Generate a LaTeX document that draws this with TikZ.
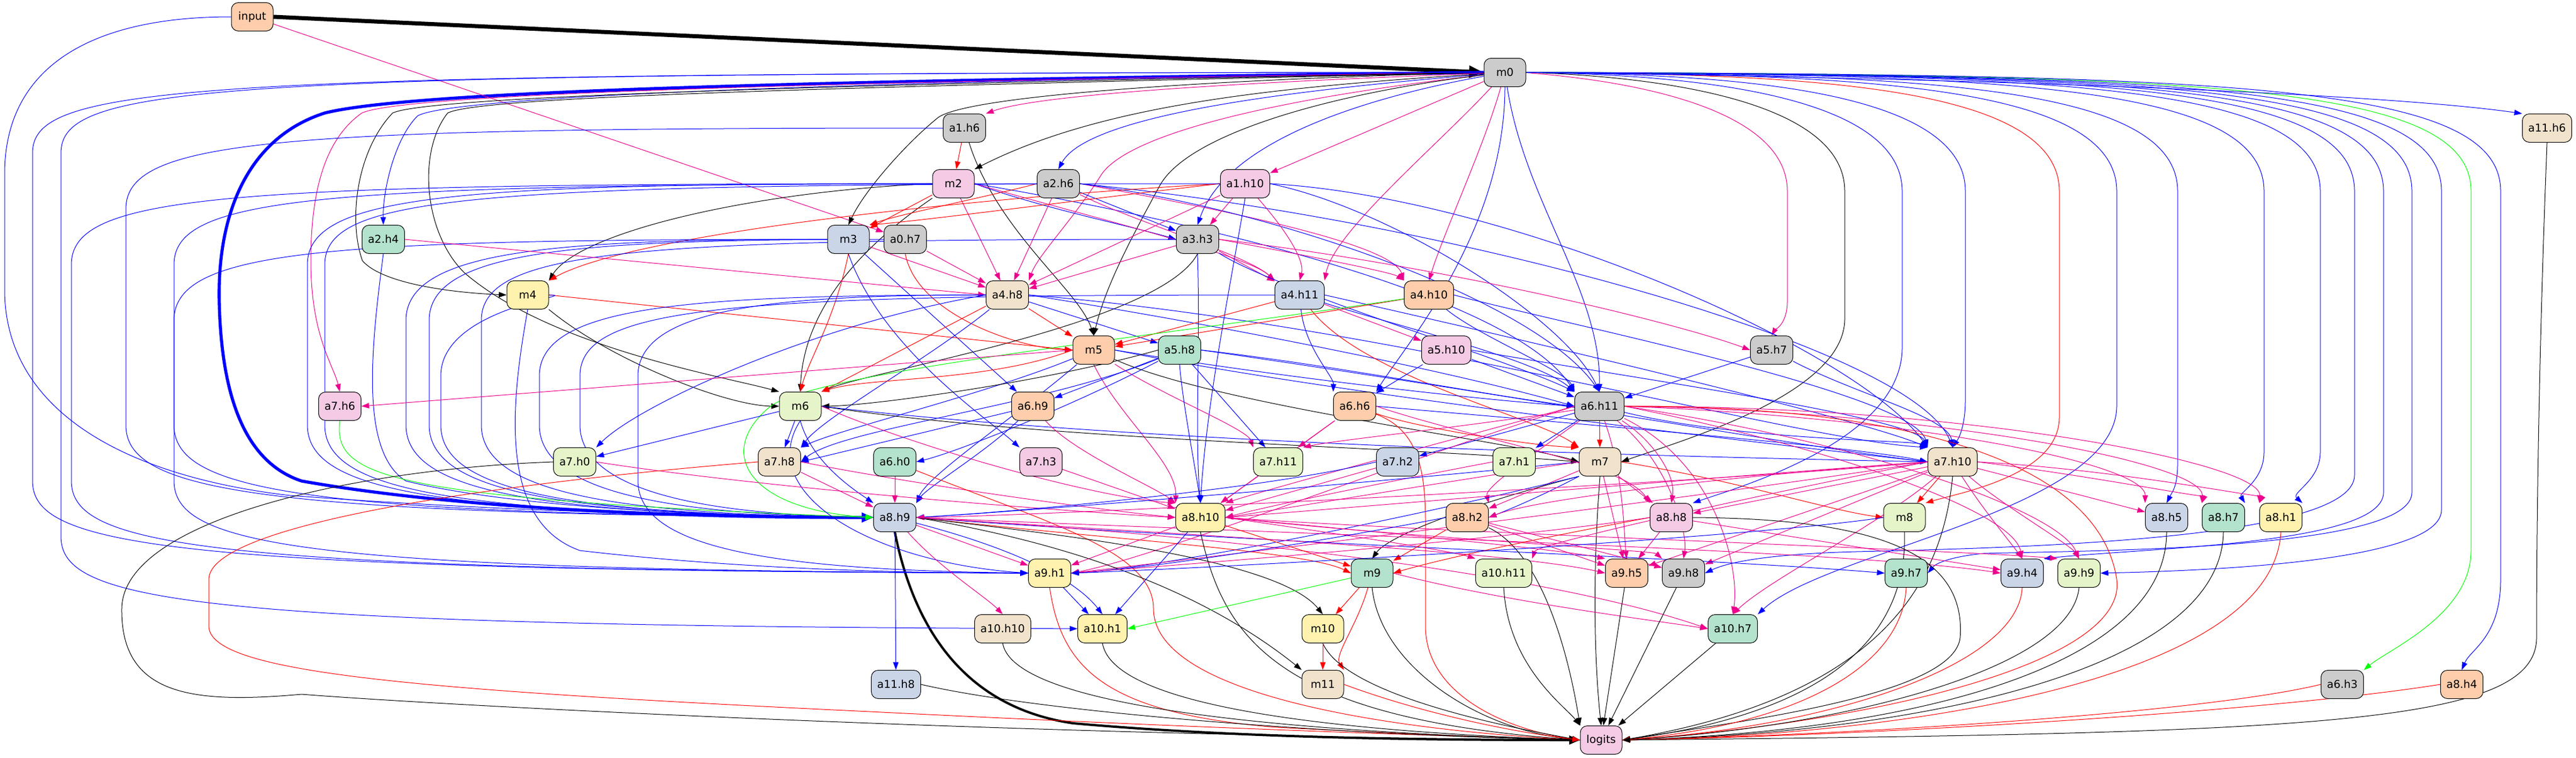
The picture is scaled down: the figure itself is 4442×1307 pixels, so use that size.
\documentclass[tikz,border=0pt]{standalone}
\usepackage{fontspec}
\setmainfont{DejaVu Sans}
\usetikzlibrary{arrows.meta}
\pgfdeclarelayer{bg}
\pgfsetlayers{bg,main}
\definecolor{pgreen}{HTML}{B3E2CD}
\definecolor{porange}{HTML}{FDCDAC}
\definecolor{pblue}{HTML}{CBD5E8}
\definecolor{ppink}{HTML}{F4CAE4}
\definecolor{plgreen}{HTML}{E6F5C9}
\definecolor{pyellow}{HTML}{FFF2AE}
\definecolor{pbeige}{HTML}{F1E2CC}
\definecolor{pgray}{HTML}{CCCCCC}
\tikzset{
 nd/.style={draw=black, line width=0.75pt, rounded corners=9pt, minimum width=54pt, minimum height=36.75pt, inner xsep=7.6pt, inner ysep=2pt, font=\fontsize{14}{17}\selectfont},
 E/.style={line width=0.75pt,-{Triangle[length=10pt,width=7pt]}},
 eb/.style={E,blue}, ek/.style={E,black}, em/.style={E,magenta}, er/.style={E,red}, eg/.style={E,green}
}
\newcommand\leftroute[6]{\draw[#1] (#2) .. controls (#4+250,#3) and (#4,#3+20) .. (#4,#3+140) -- (#4,#6-160) .. controls (#4,#6-50) and (#4+200,#6-5) .. (#5);}
\newcommand\rightroute[3]{\draw[#1] (m0.east) .. controls (#2-450,128) and (#2,145) .. (#2,330) -- #3;}
\begin{document}
\begin{tikzpicture}[x=0.75pt,y=-0.75pt]
\useasboundingbox (0,0) rectangle (4442,1307);
\node[nd,fill=porange] (input) at (435,29) {input};
\node[nd,fill=pgray] (m0) at (2595,125) {m0};
\node[nd,fill=pbeige] (a11h6) at (4392,221) {a11.h6};
\node[nd,fill=pgray] (a1h6) at (1663,221) {a1.h6};
\node[nd,fill=ppink] (m2) at (1644,317) {m2};
\node[nd,fill=pgray] (a2h6) at (1825,317) {a2.h6};
\node[nd,fill=ppink] (a1h10) at (2147,317) {a1.h10};
\node[nd,fill=pblue] (m3) at (1463,413) {m3};
\node[nd,fill=pgray] (a0h7) at (1561,413) {a0.h7};
\node[nd,fill=pgray] (a3h3) at (2065,413) {a3.h3};
\node[nd,fill=pgreen] (a2h4) at (661,413) {a2.h4};
\node[nd,fill=pyellow] (m4) at (910,509) {m4};
\node[nd,fill=pbeige] (a4h8) at (1737,509) {a4.h8};
\node[nd,fill=pblue] (a4h11) at (2241,509) {a4.h11};
\node[nd,fill=porange] (a4h10) at (2464,509) {a4.h10};
\node[nd,fill=porange] (m5) at (1886,604) {m5};
\node[nd,fill=pgreen] (a5h8) at (2034,604) {a5.h8};
\node[nd,fill=ppink] (a5h10) at (2494,604) {a5.h10};
\node[nd,fill=pgray] (a5h7) at (3055,604) {a5.h7};
\node[nd,fill=ppink] (a7h6) at (586,701) {a7.h6};
\node[nd,fill=plgreen] (m6) at (1380,701) {m6};
\node[nd,fill=porange] (a6h9) at (1781,701) {a6.h9};
\node[nd,fill=porange] (a6h6) at (2336,701) {a6.h6};
\node[nd,fill=pgray] (a6h11) at (2758,701) {a6.h11};
\node[nd,fill=plgreen] (a7h0) at (991,797) {a7.h0};
\node[nd,fill=pbeige] (a7h8) at (1344,797) {a7.h8};
\node[nd,fill=pgreen] (a6h0) at (1543,797) {a6.h0};
\node[nd,fill=ppink] (a7h3) at (1795,797) {a7.h3};
\node[nd,fill=plgreen] (a7h11) at (2204,797) {a7.h11};
\node[nd,fill=pblue] (a7h2) at (2410,797) {a7.h2};
\node[nd,fill=plgreen] (a7h1) at (2611,797) {a7.h1};
\node[nd,fill=pbeige] (m7) at (2759,797) {m7};
\node[nd,fill=pbeige] (a7h10) at (3367,797) {a7.h10};
\node[nd,fill=pblue] (a8h9) at (1543,893) {a8.h9};
\node[nd,fill=pyellow] (a8h10) at (2070,893) {a8.h10};
\node[nd,fill=porange] (a8h2) at (2530,893) {a8.h2};
\node[nd,fill=ppink] (a8h8) at (2882,893) {a8.h8};
\node[nd,fill=plgreen] (m8) at (3284,893) {m8};
\node[nd,fill=pblue] (a8h5) at (3736,893) {a8.h5};
\node[nd,fill=pgreen] (a8h7) at (3834,893) {a8.h7};
\node[nd,fill=pyellow] (a8h1) at (3933,893) {a8.h1};
\node[nd,fill=pyellow] (a9h1) at (1810,989) {a9.h1};
\node[nd,fill=pgreen] (m9) at (2366,989) {m9};
\node[nd,fill=plgreen] (a10h11) at (2593,989) {a10.h11};
\node[nd,fill=porange] (a9h5) at (2805,989) {a9.h5};
\node[nd,fill=pgray] (a9h8) at (2903,989) {a9.h8};
\node[nd,fill=pgreen] (a9h7) at (3287,989) {a9.h7};
\node[nd,fill=pblue] (a9h4) at (3487,989) {a9.h4};
\node[nd,fill=plgreen] (a9h9) at (3585,989) {a9.h9};
\node[nd,fill=pbeige] (a10h10) at (1729,1085) {a10.h10};
\node[nd,fill=pyellow] (a10h1) at (1901,1085) {a10.h1};
\node[nd,fill=pyellow] (m10) at (2281,1085) {m10};
\node[nd,fill=pgreen] (a10h7) at (2988,1085) {a10.h7};
\node[nd,fill=pblue] (a11h8) at (1545,1181) {a11.h8};
\node[nd,fill=pbeige] (m11) at (2281,1181) {m11};
\node[nd,fill=pgray] (a6h3) at (4039,1181) {a6.h3};
\node[nd,fill=porange] (a8h4) at (4245,1181) {a8.h4};
\node[nd,fill=ppink] (logits) at (2761,1277) {logits};
\begin{pgfonlayer}{bg}
\fill[white] (0,0) rectangle (4442,1307);
% thick
\draw[ek,line width=5.25pt,-{Triangle[length=19pt,width=15pt]}] (input.east) -- (m0.west);
\draw[eb,line width=4pt,-{Triangle[length=15pt,width=12pt]}] (m0.west) .. controls (1300,140) and (700,160) .. (560,195) .. controls (420,240) and (375,380) .. (378,520) .. controls (382,700) and (430,800) .. (520,830) .. controls (800,880) and (1200,893) .. (a8h9.west);
\draw[ek,line width=3pt,-{Triangle[length=14pt,width=11pt]}] (a8h9.south) .. controls (1575,1080) and (1660,1220) .. (1850,1248) .. controls (2150,1275) and (2500,1277) .. (logits.west);
% input
\draw[em] (input) -- (a0h7);
\draw[eb] (input.west) .. controls (150,29) and (8,120) .. (8,300) -- (8,500) .. controls (8,700) and (200,820) .. (500,855) .. controls (900,885) and (1300,893) .. (a8h9.west);
% m0 left
\draw[em] (m0) .. controls (2200,140) and (1800,160) .. (a1h6.north east);
\draw[ek] (m0) .. controls (2200,150) and (1900,180) .. (m2.north east);
\draw[eb] (m0) .. controls (2300,150) and (1880,190) .. (a2h6.north);
\draw[em] (m0) -- (a1h10);
\draw[ek] (m0.west) .. controls (2000,140) and (1650,170) .. (1615,205) .. controls (1560,250) and (1490,330) .. (m3.north);
\draw[eb] (m0) .. controls (2400,160) and (2120,230) .. (a3h3.north);
\draw[eb] (m0.west) .. controls (1500,140) and (780,165) .. (720,200) .. controls (680,240) and (660,330) .. (a2h4.north);
\draw[em] (m0.west) .. controls (1500,140) and (700,160) .. (624,195) .. controls (560,240) and (536,330) .. (536,450) .. controls (536,580) and (575,630) .. (a7h6.north);
\draw[ek] (m0.west) .. controls (1500,145) and (740,165) .. (677,195) .. controls (615,260) and (600,380) .. (625,450) .. controls (660,490) and (780,505) .. (m4.west);
\draw[ek] (m0.west) .. controls (1500,150) and (830,165) .. (772,195) .. controls (720,260) and (730,400) .. (800,470) .. controls (950,600) and (1250,650) .. (m6.north west);
\leftroute{eb}{m0}{125}{56}{a9h1}{989}
\leftroute{eb}{m0}{125}{105}{a10h1}{1085}
\draw[em] (m0) .. controls (2200,170) and (1950,230) .. (1900,300) .. controls (1850,380) and (1790,440) .. (a4h8.north east);
\draw[em] (m0) .. controls (2480,250) and (2300,400) .. (a4h11.north east);
\draw[em] (m0) .. controls (2560,250) and (2490,400) .. (a4h10.north);
\draw[ek] (m0) .. controls (2300,160) and (2050,230) .. (2000,320) .. controls (1940,430) and (1905,500) .. (m5.north);
\draw[eb] (m0.south) .. controls (2595,400) and (2420,600) .. (a6h6.north east);
\draw[eb] (m0) .. controls (2630,350) and (2760,500) .. (a6h11.north);
% m0 right
\rightroute{em}{3082}{(3082,520) .. controls (3082,560) and (3060,570) .. (a5h7.north)}
\rightroute{ek}{3181}{(3181,550) .. controls (3181,680) and (2900,760) .. (m7.east)}
\rightroute{eb}{3280}{(3280,600) .. controls (3280,760) and (3000,840) .. (a8h8.north east)}
\rightroute{eb}{3389}{(3389,690) .. controls (3389,740) and (3375,760) .. (a7h10.north)}
\rightroute{er}{3551}{(3551,720) .. controls (3551,820) and (3380,850) .. (m8.north east)}
\rightroute{eb}{3650}{(3650,700) .. controls (3650,880) and (3150,950) .. (a10h7.north east)}
\rightroute{eb}{3755}{(3755,800) .. controls (3755,840) and (3745,850) .. (a8h5.north)}
\rightroute{eb}{3904}{(3904,780) .. controls (3904,830) and (3860,850) .. (a8h7.north east)}
\rightroute{eb}{4001}{(4001,780) .. controls (4001,830) and (3950,850) .. (a8h1.north east)}
\rightroute{eb}{4060}{(4060,820) .. controls (4060,930) and (3500,945) .. (3200,952) .. controls (3050,956) and (2980,970) .. (a9h8.east)}
\rightroute{eb}{4110}{(4110,850) .. controls (4110,940) and (3700,945) .. (a9h4.north east)}
\rightroute{eb}{4159}{(4159,850) .. controls (4159,950) and (3600,950) .. (3420,955) .. controls (3370,960) and (3340,970) .. (a9h7.east)}
\rightroute{eb}{4210}{(4210,880) .. controls (4210,970) and (3800,985) .. (a9h9.east)}
\rightroute{eg}{4261}{(4261,950) .. controls (4261,1060) and (4120,1120) .. (a6h3.north east)}
\rightroute{eb}{4312}{(4312,1000) .. controls (4312,1100) and (4260,1120) .. (a8h4.north)}
\draw[eb] (m0.east) .. controls (3400,135) and (4100,160) .. (a11h6.north west);
% a1h6
\draw[er] (a1h6) -- (m2);
\draw[ek] (a1h6) .. controls (1720,400) and (1860,500) .. (m5.north);
\leftroute{eb}{a1h6}{221}{217}{a8h9}{893}
% m2
\draw[er] (m2) -- (m3);
\draw[eb] (m2.east) .. controls (1800,360) and (1950,390) .. (a3h3.west);
\draw[em] (m2) -- (a4h8);
\draw[em] (m2.east) .. controls (1900,380) and (2150,440) .. (a4h11.north west);
\draw[ek] (m2.west) .. controls (1300,330) and (1000,400) .. (m4.north east);
\draw[ek] (m2.south west) .. controls (1450,450) and (1385,560) .. (m6.north);
\draw[eb] (m2.east) .. controls (2000,370) and (2600,500) .. (a6h11.north west);
\leftroute{eb}{m2}{317}{123}{a9h1}{989}
\leftroute{eb}{m2}{317}{530}{a8h9}{893}
% a2h6
\draw[er] (a2h6.west) .. controls (1700,340) and (1550,370) .. (m3.north east);
\draw[eb] (a2h6) -- (a3h3);
\draw[em] (a2h6) -- (a4h8);
\draw[em] (a2h6) .. controls (1950,380) and (2150,440) .. (a4h11.north west);
\draw[em] (a2h6.east) .. controls (2100,360) and (2400,420) .. (a4h10.north west);
\draw[eb] (a2h6.east) .. controls (2200,360) and (2650,520) .. (a6h11.north);
\draw[eb] (a2h6.east) .. controls (2500,380) and (3300,600) .. (a7h10.north);
\leftroute{eb}{a2h6}{317}{300}{a8h9}{893}
% a1h10
\draw[er] (a1h10.west) .. controls (1900,340) and (1600,380) .. (m3.north east);
\draw[er] (a1h10.west) .. controls (1700,340) and (1100,400) .. (m4.north east);
\draw[em] (a1h10) -- (a3h3);
\draw[em] (a1h10) -- (a4h8);
\draw[em] (a1h10) .. controls (2220,400) and (2250,450) .. (a4h11.north);
\draw[eb] (a1h10.south) .. controls (2120,500) and (2080,700) .. (a8h10.north);
\draw[eb] (a1h10.east) .. controls (2400,360) and (2700,550) .. (a6h11.north);
\draw[eb] (a1h10.east) .. controls (2600,340) and (3200,600) .. (a7h10.north west);
\leftroute{eb}{a1h10}{317}{560}{a8h9}{893}
% m3
\draw[em] (m3) -- (a4h8);
\draw[eb] (m3) -- (a6h9);
\draw[er] (m3.south) .. controls (1440,550) and (1395,620) .. (m6.north);
\draw[eb] (m3.south) .. controls (1520,600) and (1700,720) .. (a7h3.north west);
\leftroute{eb}{m3}{413}{700}{a8h9}{893}
\leftroute{eb}{m3}{413}{300}{a9h1}{989}
% a0h7
\draw[em] (a0h7) -- (a4h8);
\draw[er] (a0h7.south) .. controls (1580,540) and (1750,600) .. (m5.west);
\leftroute{eb}{a0h7}{413}{740}{a8h9}{893}
% a3h3
\draw[em] (a3h3) -- (a4h8);
\draw[em] (a3h3) -- (a4h11);
\draw[em] (a3h3.east) .. controls (2250,440) and (2400,470) .. (a4h10.north west);
\draw[em] (a3h3.east) .. controls (2500,460) and (2900,560) .. (a5h7.west);
\draw[ek] (a3h3.south) .. controls (2000,560) and (1500,640) .. (m6.north east);
\draw[eb] (a3h3.south) .. controls (2070,600) and (2060,750) .. (a8h10.north);
\draw[eb] (a3h3) .. controls (2200,500) and (2600,620) .. (a6h11.north west);
\leftroute{eb}{a3h3}{413}{830}{a8h9}{893}
% a2h4
\draw[em] (a2h4.east) -- (a4h8.west);
\draw[eb] (a2h4.south) .. controls (640,600) and (620,780) .. (700,830) .. controls (900,880) and (1300,893) .. (a8h9.west);
% m4
\draw[er] (m4.east) -- (m5.west);
\draw[ek] (m4.south east) .. controls (1050,620) and (1250,700) .. (m6.west);
\leftroute{eb}{m4}{509}{760}{a8h9}{893}
\draw[eb] (m4.south) .. controls (880,700) and (860,900) .. (1000,950) .. controls (1300,985) and (1600,989) .. (a9h1.west);
% a4h8
\draw[er] (a4h8) -- (m5);
\draw[eb] (a4h8) -- (a5h8);
\draw[er] (a4h8) -- (m6.north east);
\draw[eb] (a4h8.east) .. controls (2100,560) and (2500,640) .. (a6h11.west);
\draw[eb] (a4h8.east) .. controls (2400,560) and (3100,760) .. (a7h10.north west);
\draw[eb] (a4h8.west) .. controls (1400,560) and (1100,700) .. (a7h0.north east);
\draw[eb] (a4h8) .. controls (1600,620) and (1420,720) .. (a7h8.north east);
\leftroute{eb}{a4h8}{509}{930}{a8h9}{893}
\leftroute{eb}{a4h8}{509}{1100}{a9h1}{989}
% a4h11
\draw[er] (a4h11) -- (m5);
\draw[em] (a4h11) -- (a5h10);
\draw[eb] (a4h11) .. controls (2250,600) and (2300,650) .. (a6h6.north west);
\draw[eb] (a4h11) .. controls (2400,560) and (2650,620) .. (a6h11.north west);
\draw[er] (a4h11) .. controls (2350,650) and (2650,720) .. (m7.north west);
\draw[eb] (a4h11.east) .. controls (2600,580) and (3200,720) .. (a7h10.north west);
\leftroute{eb}{a4h11}{509}{1000}{a8h9}{893}
% a4h10
\draw[er] (a4h10) -- (m5);
\draw[eg] (a4h10) .. controls (2000,580) and (1420,640) .. (1330,700) .. controls (1230,780) and (1290,880) .. (a8h9.west);
\draw[eb] (a4h10) .. controls (2550,580) and (2700,640) .. (a6h11.north west);
\draw[eb] (a4h10.east) .. controls (2700,560) and (3300,680) .. (a7h10.north west);
% m5
\draw[em] (m5.west) -- (a7h6.east);
\draw[er] (m5.west) .. controls (1700,660) and (1500,650) .. (m6.north east);
\draw[eb] (m5.east) .. controls (2200,650) and (2550,690) .. (a6h11.west);
\draw[ek] (m5) .. controls (2100,700) and (2600,760) .. (m7.west);
\draw[em] (m5) .. controls (2000,680) and (2150,740) .. (a7h11.north west);
\draw[eb] (m5) .. controls (1700,680) and (1450,740) .. (a7h8.north east);
\draw[eb] (m5) .. controls (1750,720) and (1600,820) .. (a8h9.north east);
\draw[em] (m5.south) .. controls (1930,720) and (2030,800) .. (a8h10.north west);
\draw[eb] (m5.east) .. controls (2300,680) and (3000,760) .. (a7h10.west);
% a5h8
\draw[ek] (a5h8.west) .. controls (1800,660) and (1500,700) .. (m6.east);
\draw[eb] (a5h8) -- (a6h9);
\draw[eb] (a5h8) .. controls (1850,700) and (1650,780) .. (a6h0.east);
\draw[eb] (a5h8.east) .. controls (2300,630) and (2550,680) .. (a6h11.west);
\draw[eb] (a5h8) -- (a7h11);
\draw[eb] (a5h8.south) .. controls (2040,700) and (2060,800) .. (a8h10.north);
\draw[eb] (a5h8.east) .. controls (2600,680) and (3100,770) .. (a7h10.west);
\draw[eb] (a5h8) .. controls (1800,700) and (1450,740) .. (a7h8.east);
% a5h10, a5h7
\draw[eb] (a5h10) -- (a6h6);
\draw[eb] (a5h10) -- (a6h11);
\draw[eb] (a5h10.east) .. controls (2800,650) and (3300,720) .. (a7h10.north west);
\draw[eb] (a5h7) -- (a6h11);
\draw[eb] (a5h7) .. controls (3200,680) and (3360,720) .. (a7h10.north);
% a7h6
\draw[eg] (a7h6.south) .. controls (575,820) and (650,860) .. (a8h9.west);
% m6
\draw[eb] (m6) -- (a7h0);
\draw[eb] (m6) -- (a7h8);
\draw[ek] (m6.east) .. controls (1800,760) and (2400,770) .. (m7.west);
\draw[eb] (m6.east) .. controls (2000,770) and (3000,790) .. (a7h10.west);
\draw[eb] (m6.south) .. controls (1400,800) and (1480,850) .. (a8h9.north west);
\draw[eb] (m6.south) .. controls (1300,850) and (1500,970) .. (a9h1.west);
\draw[em] (m6.east) .. controls (1600,780) and (1900,860) .. (a8h10.north west);
% a6h9
\draw[eb] (a6h9) -- (a7h8.east);
\draw[em] (a6h9) .. controls (1850,780) and (1990,840) .. (a8h10.north west);
\draw[eb] (a6h9) .. controls (1700,780) and (1600,840) .. (a8h9.north east);
% a6h6
\draw[em] (a6h6) -- (a7h11);
\draw[er] (a6h6) .. controls (2450,740) and (2650,770) .. (m7.north west);
\draw[er] (a6h6) .. controls (2440,740) and (2458,800) .. (2458,900) -- (2458,1080) .. controls (2458,1200) and (2600,1260) .. (logits.west);
\draw[em] (a6h6) -- (a8h10);
\draw[eb] (a6h6.east) .. controls (2700,730) and (3200,770) .. (a7h10.west);
\draw[em] (a6h6.east) .. controls (2550,760) and (2800,800) .. (a8h8.north west);
% a6h11
\draw[em] (a6h11) .. controls (2500,740) and (2300,760) .. (a7h11.north east);
\draw[eb] (a6h11) -- (a7h2);
\draw[eb] (a6h11) -- (a7h1);
\draw[er] (a6h11) -- (m7);
\draw[eb] (a6h11) .. controls (3000,760) and (3300,760) .. (a7h10.north west);
\draw[em] (a6h11.west) .. controls (2500,760) and (2200,840) .. (a8h10.north east);
\draw[em] (a6h11) .. controls (2650,780) and (2560,840) .. (a8h2.north east);
\draw[em] (a6h11) .. controls (2850,760) and (2890,820) .. (a8h8.north);
\draw[em] (a6h11.east) .. controls (3300,720) and (3700,800) .. (a8h5.north west);
\draw[em] (a6h11.east) .. controls (3350,710) and (3800,800) .. (a8h7.north west);
\draw[em] (a6h11.east) .. controls (3400,700) and (3900,800) .. (a8h1.north west);
\draw[em] (a6h11) .. controls (2800,820) and (2800,920) .. (a9h5.north);
\draw[em] (a6h11) .. controls (2880,800) and (2910,920) .. (a9h8.north);
\draw[em] (a6h11.east) .. controls (3200,760) and (3550,880) .. (a9h9.north);
\draw[em] (a6h11.east) .. controls (3150,770) and (3470,880) .. (a9h4.north);
\draw[em] (a6h11) .. controls (2960,800) and (3000,980) .. (a10h7.north);
\draw[er] (a6h11.east) .. controls (3300,700) and (3620,800) .. (3650,1000) .. controls (3670,1150) and (3200,1250) .. (logits.east);
\draw[em] (a6h11.west) .. controls (2400,800) and (2000,960) .. (a9h1.east);
% a7h0, a7h8, a6h0
\draw[em] (a7h0.east) .. controls (1300,840) and (1800,880) .. (a8h10.west);
\draw[ek] (a7h0.west) .. controls (600,810) and (212,900) .. (210,1050) .. controls (208,1200) and (330,1215) .. (520,1198) .. controls (800,1220) and (1800,1270) .. (logits.west);
\draw[em] (a7h8) -- (a8h9);
\draw[em] (a7h8.east) .. controls (1600,840) and (1900,880) .. (a8h10.west);
\draw[er] (a7h8.west) .. controls (900,830) and (360,900) .. (360,1000) -- (360,1080) .. controls (360,1160) and (700,1190) .. (1500,1228) .. controls (2100,1258) and (2500,1270) .. (logits.west);
\draw[em] (a6h0) -- (a8h9);
\draw[er] (a6h0) .. controls (1800,900) and (1989,950) .. (1989,1050) .. controls (1989,1200) and (2400,1260) .. (logits.west);
% a7h3, a7h11, a7h2, a7h1
\draw[em] (a7h3) -- (a8h10);
\draw[em] (a7h11) -- (a8h10);
\draw[eb] (a7h2.west) .. controls (2200,840) and (1800,880) .. (a8h9.east);
\draw[em] (a7h2) -- (a8h10);
\draw[em] (a7h1.west) .. controls (2400,830) and (2200,870) .. (a8h10.east);
% m7
\draw[eb] (m7.west) .. controls (2400,830) and (1800,880) .. (a8h9.east);
\draw[em] (m7.west) .. controls (2500,830) and (2200,880) .. (a8h10.east);
\draw[em] (m7) -- (a8h2);
\draw[eb] (m7.south west) .. controls (2650,860) and (2600,880) .. (a8h2.east);
\draw[em] (m7) -- (a8h8);
\draw[er] (m7.east) .. controls (3000,830) and (3150,880) .. (m8.west);
\draw[ek] (m7.south west) .. controls (2500,880) and (2390,930) .. (m9.north);
\draw[eb] (m7.south west) .. controls (2400,900) and (2000,980) .. (a9h1.east);
\draw[em] (m7) -- (a9h5);
\draw[ek] (m7.south) .. controls (2745,1000) and (2750,1150) .. (logits.north);
% a7h10
\draw[er] (a7h10) -- (m8);
\draw[em] (a7h10.west) .. controls (3000,820) and (2650,860) .. (a8h2.east);
\draw[em] (a7h10) -- (a8h8);
\draw[em] (a7h10) -- (a8h5);
\draw[em] (a7h10.east) .. controls (3600,820) and (3800,860) .. (a8h7.north west);
\draw[em] (a7h10.east) .. controls (3650,810) and (3900,860) .. (a8h1.north west);
\draw[em] (a7h10.west) .. controls (3000,820) and (2400,870) .. (a8h10.east);
\draw[em] (a7h10.west) .. controls (3000,850) and (2100,960) .. (a9h1.east);
\draw[em] (a7h10) -- (a9h5);
\draw[em] (a7h10) -- (a9h8);
\draw[em] (a7h10) .. controls (3420,880) and (3470,940) .. (a9h4.north);
\draw[em] (a7h10) .. controls (3450,870) and (3570,940) .. (a9h9.north);
\draw[em] (a7h10) .. controls (3250,900) and (3050,1000) .. (a10h7.north);
\draw[em] (a7h10.west) .. controls (3000,860) and (2650,940) .. (a10h11.north east);
\draw[ek] (a7h10.south) .. controls (3350,1000) and (3250,1200) .. (logits.east);
\draw[em] (a7h10.west) .. controls (3000,830) and (1800,890) .. (a8h9.east);
% a8h9
\draw[em] (a8h9) -- (a9h1);
\draw[em] (a8h9) .. controls (1620,980) and (1700,1030) .. (a10h10.north);
\draw[eb] (a8h9) .. controls (1800,960) and (1870,1020) .. (a10h1.north);
\draw[eb] (a8h9) -- (a11h8);
\draw[er] (a8h9.east) .. controls (1900,930) and (2250,950) .. (m9.west);
\draw[ek] (a8h9.east) .. controls (1800,920) and (2200,960) .. (m10.north);
\draw[ek] (a8h9.east) .. controls (1800,930) and (2050,1000) .. (m11.north west);
\draw[eb] (a8h9.east) .. controls (2200,940) and (2900,960) .. (a9h7.west);
\draw[em] (a8h9.east) .. controls (2000,920) and (2600,950) .. (a9h5.west);
\draw[em] (a8h9.east) .. controls (2200,920) and (3200,950) .. (a9h4.west);
\draw[em] (a8h9.east) .. controls (2200,930) and (2700,1000) .. (a10h7.west);
% a8h10
\draw[em] (a8h10) -- (a9h1);
\draw[eb] (a8h10) -- (a10h1);
\draw[er] (a8h10) -- (m9);
\draw[ek] (a8h10.south) .. controls (2110,1100) and (2200,1240) .. (logits.west);
\draw[em] (a8h10.east) .. controls (2300,920) and (2500,950) .. (a10h11.north west);
\draw[em] (a8h10.east) .. controls (2400,920) and (2700,950) .. (a9h5.north west);
\draw[em] (a8h10.east) .. controls (2400,925) and (2850,950) .. (a9h8.north west);
\draw[em] (a8h10.east) .. controls (2500,920) and (3400,950) .. (a9h9.north west);
% a8h2
\draw[eb] (a8h2.west) .. controls (2300,930) and (2000,980) .. (a9h1.east);
\draw[er] (a8h2) -- (m9);
\draw[ek] (a8h2) .. controls (2650,950) and (2700,1100) .. (logits.north west);
\draw[em] (a8h2) -- (a9h5);
\draw[em] (a8h2) -- (a9h8);
% a8h8
\draw[er] (a8h8.west) .. controls (2700,920) and (2500,960) .. (m9.east);
\draw[em] (a8h8) -- (a9h4);
\draw[ek] (a8h8.east) .. controls (3250,895) and (3390,960) .. (3380,1100) .. controls (3370,1200) and (3000,1245) .. (logits.east);
\draw[em] (a8h8) -- (a9h5);
\draw[em] (a8h8.west) .. controls (2600,930) and (2100,970) .. (a9h1.east);
% m8, a8 right
\draw[ek] (m8.south) .. controls (3290,1100) and (3150,1230) .. (logits.east);
\draw[eb] (m8.west) .. controls (3000,930) and (2100,980) .. (a9h1.east);
\draw[ek] (a8h5.south) .. controls (3736,1150) and (3300,1262) .. (logits.east);
\draw[ek] (a8h7.south) .. controls (3830,1160) and (3300,1265) .. (logits.east);
\draw[er] (a8h1.south) .. controls (3920,1170) and (3300,1268) .. (logits.east);
% layer 9 and later
\draw[eb] (a9h1) -- (a10h1);
\draw[er] (a9h1.south) .. controls (1830,1150) and (1900,1230) .. (2200,1255) .. controls (2450,1268) and (2650,1275) .. (logits.west);
\draw[er] (m9) -- (m10);
\draw[er] (m9) .. controls (2340,1080) and (2300,1130) .. (m11.north east);
\draw[eg] (m9) -- (a10h1.east);
\draw[ek] (m9.south) .. controls (2380,1150) and (2550,1260) .. (logits.west);
\draw[em] (m9.east) .. controls (2600,1040) and (2850,1070) .. (a10h7.west);
\draw[ek] (a10h11.south) .. controls (2600,1150) and (2700,1220) .. (logits.north west);
\draw[ek] (a9h5) -- (logits);
\draw[ek] (a9h8) -- (logits);
\draw[er] (a9h7.south) .. controls (3280,1150) and (3100,1250) .. (logits.east);
\draw[er] (a9h4.south) .. controls (3480,1150) and (3150,1255) .. (logits.east);
\draw[ek] (a9h9.south) .. controls (3570,1160) and (3150,1258) .. (logits.east);
\draw[ek] (a10h10.south) .. controls (1750,1230) and (2300,1265) .. (logits.west);
\draw[ek] (a10h1.south) .. controls (1920,1220) and (2300,1262) .. (logits.west);
\draw[ek] (m10.south) .. controls (2320,1200) and (2600,1255) .. (logits.west);
\draw[er] (m10) -- (m11);
\draw[ek] (a10h7) -- (logits);
\draw[ek] (a11h8.east) .. controls (1800,1230) and (2300,1268) .. (logits.west);
\draw[er] (m11.east) .. controls (2450,1230) and (2600,1262) .. (logits.west);
\draw[er] (a6h3.west) .. controls (3800,1230) and (3200,1268) .. (logits.east);
\draw[er] (a8h4.west) .. controls (3900,1230) and (3200,1270) .. (logits.east);
\draw[ek] (a11h6.south) .. controls (4378,600) and (4374,900) .. (4374,1100) .. controls (4374,1250) and (4000,1265) .. (logits.east);
\end{pgfonlayer}
\end{tikzpicture}
\end{document}
